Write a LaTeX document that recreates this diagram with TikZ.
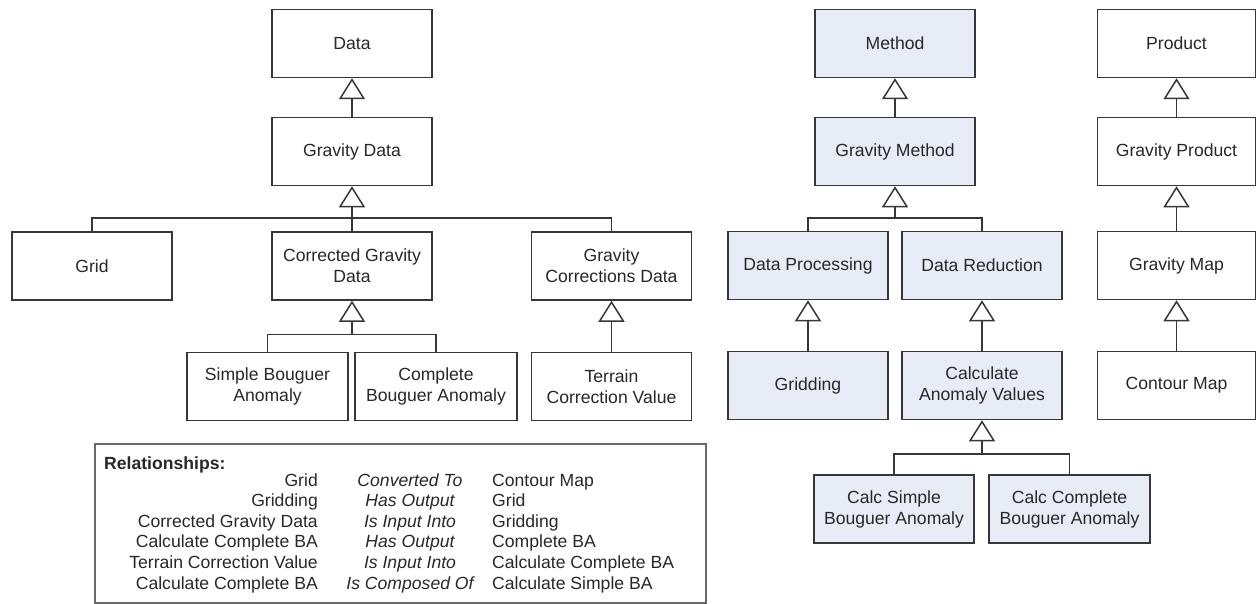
\documentclass[tikz,border=0pt]{standalone}
\usepackage{fontspec}
\setmainfont{Liberation Sans}
\usetikzlibrary{arrows.meta}
\definecolor{bord}{RGB}{55,55,55}
\definecolor{mfill}{RGB}{232,236,247}
\definecolor{txt}{RGB}{40,40,40}
\definecolor{relbord}{RGB}{105,105,105}
\begin{document}
\begin{tikzpicture}[x=1pt,y=-1pt,
  cls/.style={draw=bord, line width=1.5pt, fill=white, minimum width=160pt, minimum height=68pt,
    align=center, font=\fontsize{17.6}{21}\selectfont, text=txt, inner sep=2pt},
  meth/.style={cls, fill=mfill},
  ln/.style={draw=bord, line width=1.5pt},
  inh/.style={ln, -{Triangle[open, length=21pt, width=26pt, fill=white]}},
  reltxt/.style={font=\fontsize{17.6}{21}\selectfont, text=txt, inner sep=0pt},
]
\useasboundingbox (0,0) rectangle (1257,604);

% ---- Data tree ----
\node[cls] (data)  at (352,43.5)  {Data};
\node[cls] (gdata) at (352,151.5) {Gravity Data};
\node[cls] (grid)  at (92,266)    {Grid};
\node[cls] (cgd)   at (352,266)   {Corrected Gravity\\Data};
\node[cls] (gcd)   at (611.5,266) {Gravity\\Corrections Data};
\node[cls, minimum width=161pt] (sba) at (267.5,386.5) {Simple Bouguer\\Anomaly};
\node[cls, minimum width=162pt] (cba) at (436,386.5)   {Complete\\Bouguer Anomaly};
\node[cls] (tcv)   at (611.5,386.5) {Terrain\\Correction Value};

\coordinate (b1) at (352,218);
\coordinate (b2) at (352,334.5);
\draw[inh] (gdata.north) -- (data.south);
\draw[ln] (grid.north) |- (b1);
\draw[ln] (gcd.north) |- (b1);
\draw[inh] (cgd.north) -- (gdata.south);
\draw[ln] (sba.north) |- (b2);
\draw[ln] (cba.north) |- (b2);
\draw[inh] (b2) -- (cgd.south);
\draw[inh] (tcv.north) -- (gcd.south);

% ---- Method tree ----
\node[meth] (method)  at (895,43.5)  {Method};
\node[meth] (gmethod) at (895,151.5) {Gravity Method};
\node[meth] (dproc)   at (808,265.5) {Data Processing};
\node[meth] (dred)    at (982,265.5) {Data Reduction};
\node[meth] (gridding) at (808,385.5) {Gridding};
\node[meth] (cav)     at (982,385.5) {Calculate\\Anomaly Values};
\node[meth] (csba)    at (894,509)   {Calc Simple\\Bouguer Anomaly};
\node[meth, minimum width=161pt] (ccba) at (1069.5,509) {Calc Complete\\Bouguer Anomaly};

\coordinate (b3) at (895,218);
\coordinate (b4) at (982,454);
\draw[inh] (gmethod.north) -- (method.south);
\draw[ln] (dproc.north) |- (b3);
\draw[ln] (dred.north) |- (b3);
\draw[inh] (b3) -- (gmethod.south);
\draw[inh] (gridding.north) -- (dproc.south);
\draw[inh] (cav.north) -- (dred.south);
\draw[ln] (csba.north) |- (b4);
\draw[ln] (ccba.north) |- (b4);
\draw[inh] (b4) -- (cav.south);

% ---- Product tree ----
\node[cls, minimum width=158pt] (product)  at (1176.5,43.5)  {Product};
\node[cls, minimum width=158pt] (gproduct) at (1176.5,151.5) {Gravity Product};
\node[cls, minimum width=158pt] (gmap)     at (1176.5,265.5) {Gravity Map};
\node[cls, minimum width=158pt] (cmap)     at (1176.5,385.5) {Contour Map};
\draw[inh] (gproduct.north) -- (product.south);
\draw[inh] (gmap.north) -- (gproduct.south);
\draw[inh] (cmap.north) -- (gmap.south);

% ---- Relationships box ----
\node[draw=relbord, line width=1.6pt, minimum width=611pt, minimum height=159pt, inner sep=0pt] (rel) at (400.5,523.5) {};
\node[reltxt, anchor=base west, font=\fontsize{17.6}{21}\selectfont\bfseries] (relh) at (104,469) {Relationships:};

\node[reltxt, anchor=base east] (r1a) at (318,486) {Grid};
\node[reltxt, anchor=base] (r1b) at (410,486) {\itshape Converted To};
\node[reltxt, anchor=base west] (r1c) at (492,486) {Contour Map};

\node[reltxt, anchor=base east] (r2a) at (318,506.6) {Gridding};
\node[reltxt, anchor=base] (r2b) at (410,506.6) {\itshape Has Output};
\node[reltxt, anchor=base west] (r2c) at (492,506.6) {Grid};

\node[reltxt, anchor=base east] (r3a) at (318,527.2) {Corrected Gravity Data};
\node[reltxt, anchor=base] (r3b) at (410,527.2) {\itshape Is Input Into};
\node[reltxt, anchor=base west] (r3c) at (492,527.2) {Gridding};

\node[reltxt, anchor=base east] (r4a) at (318,547.8) {Calculate Complete BA};
\node[reltxt, anchor=base] (r4b) at (410,547.8) {\itshape Has Output};
\node[reltxt, anchor=base west] (r4c) at (492,547.8) {Complete BA};

\node[reltxt, anchor=base east] (r5a) at (318,568.4) {Terrain Correction Value};
\node[reltxt, anchor=base] (r5b) at (410,568.4) {\itshape Is Input Into};
\node[reltxt, anchor=base west] (r5c) at (492,568.4) {Calculate Complete BA};

\node[reltxt, anchor=base east] (r6a) at (318,589) {Calculate Complete BA};
\node[reltxt, anchor=base] (r6b) at (410,589) {\itshape Is Composed Of};
\node[reltxt, anchor=base west] (r6c) at (492,589) {Calculate Simple BA};
\end{tikzpicture}
\end{document}
